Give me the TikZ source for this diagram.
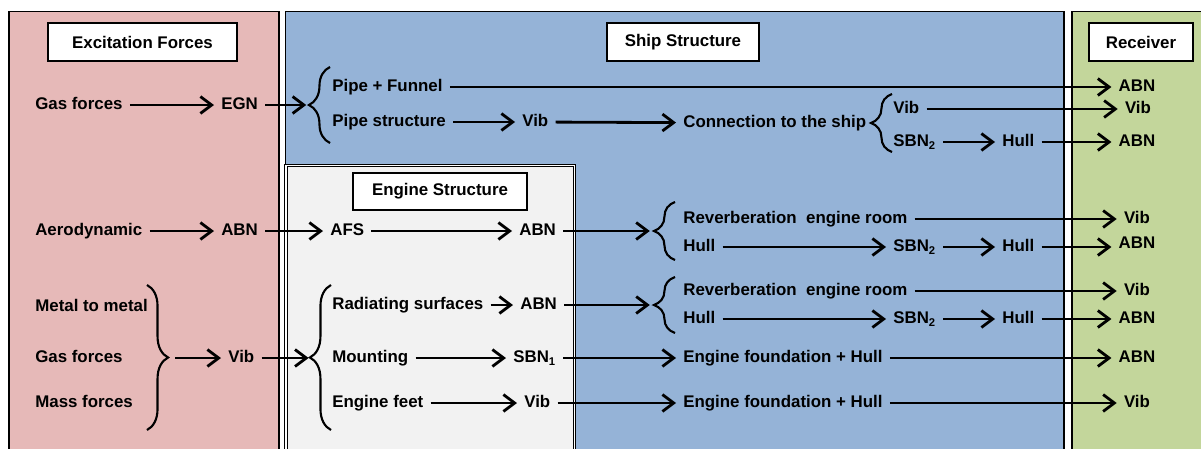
\documentclass[tikz,border=0pt]{standalone}
\usepackage{fontspec}
\setmainfont{Liberation Sans}
\usetikzlibrary{positioning,arrows.meta,decorations.pathreplacing}
\definecolor{excitecolour}{HTML}{E6B9B8}
\definecolor{shipcolour}{HTML}{95B3D7}
\definecolor{receivecolour}{HTML}{C3D69B}
\definecolor{enginecolour}{HTML}{F2F2F2}

\begin{document}
\begin{tikzpicture}[
  x=0.025cm, y=-0.025cm,
  panel/.style = {draw=black, line width=1.4pt},
  headbox/.style = {draw=black, fill=white, line width=1.6pt, minimum height=27pt, inner sep=0pt, font=\bfseries\fontsize{12}{14}\selectfont},
  lab/.style = {anchor=west, inner xsep=5pt, inner ysep=1pt, text height=1.6ex, text depth=.3ex, font=\bfseries\fontsize{12}{14}\selectfont},
  rec/.style = {lab, anchor=center},
  flow/.style = {-{Straight Barb[length=8pt,width=12pt]}, line width=2pt},
  curly/.style = {decorate, decoration={brace, amplitude=15pt}, line width=1.5pt}
  ]

  \clip (0,0) rectangle (1201,448);

  % panels
  \draw[panel, fill=excitecolour] (9,11.5) rectangle (279,470);
  \draw[panel, fill=shipcolour] (285.5,11.5) rectangle (1063.5,470);
  \draw[panel, fill=receivecolour] (1071.5,11.5) rectangle (1230,470);
  \draw[fill=enginecolour, draw=black, line width=1pt, double=white, double distance=0.8pt] (286,165.5) rectangle (574.5,470);

  \node[headbox, minimum width=134pt] (excite_head) at (142.5,42) {Excitation Forces};
  \node[headbox, minimum width=108pt] (ship_head) at (683,42) {Ship Structure};
  \node[headbox, minimum width=74pt] (receive_head) at (1141,42) {Receiver};
  \node[headbox, minimum width=124pt, minimum height=26pt] (engine_head) at (440,191.5) {Engine Structure};

  % exhaust path
  \node[lab] (gas_a) at (28,105) {Gas forces};
  \node[lab] (egn) at (214,105) {EGN};
  \coordinate (b1_top) at (330,67);
  \coordinate (b1_bot) at (330,143);
  \coordinate (b1_tip) at (309,105);
  \draw[curly] (b1_bot) -- (b1_top);
  \node[lab] (pipe_funnel) at (325,87) {Pipe + Funnel};
  \node[rec] (abn_r1) at (1137,87) {ABN};
  \node[lab] (pipe_struct) at (325,122) {Pipe structure};
  \node[lab] (vib_a) at (515,122) {Vib};
  \node[lab] (connection) at (676,123) {Connection to the ship};
  \coordinate (b2_top) at (892,94);
  \coordinate (b2_bot) at (892,152);
  \draw[curly] (b2_bot) -- (b2_top);
  \node[lab] (vib_a2) at (886,109) {Vib};
  \node[rec] (vib_r2) at (1138,109) {Vib};
  \node[lab] (sbn_a) at (886,142) {SBN\textsubscript{2}};
  \node[lab] (hull_a) at (995,142) {Hull};
  \node[rec] (abn_r3) at (1137,142) {ABN};

  \draw[flow] (gas_a) -- (egn);
  \draw[flow, shorten >=2pt] (egn) -- (b1_tip);
  \draw[flow] (pipe_funnel) -- (abn_r1);
  \draw[flow] (pipe_struct) -- (vib_a);
  \draw[flow] (vib_a) -- (connection);
  \draw[flow] (vib_a2) -- (vib_r2);
  \draw[flow] (sbn_a) -- (hull_a);
  \draw[flow] (hull_a) -- (abn_r3);

  % aerodynamic path
  \node[lab] (aero) at (28,231) {Aerodynamic};
  \node[lab] (abn_b1) at (214,231) {ABN};
  \node[lab] (afs) at (323,231) {AFS};
  \node[lab] (abn_b2) at (512,231) {ABN};
  \coordinate (b3_top) at (675,202);
  \coordinate (b3_bot) at (675,260);
  \coordinate (b3_tip) at (654,231);
  \draw[curly] (b3_bot) -- (b3_top);
  \node[lab] (reverb_b) at (676,219) {Reverberation~ engine room};
  \node[rec] (vib_r4) at (1137,219) {Vib};
  \node[lab] (hull_b1) at (676,247) {Hull};
  \node[lab] (sbn_b) at (886,247) {SBN\textsubscript{2}};
  \node[lab] (hull_b2) at (995,247) {Hull};
  \node[rec] (abn_r5) at (1137,244) {ABN};

  \draw[flow] (aero) -- (abn_b1);
  \draw[flow] (abn_b1) -- (afs);
  \draw[flow] (afs) -- (abn_b2);
  \draw[flow, shorten >=3pt] (abn_b2) -- (b3_tip);
  \draw[flow] (reverb_b) -- (vib_r4);
  \draw[flow] (hull_b1) -- (sbn_b);
  \draw[flow] (sbn_b) -- (hull_b2);
  \draw[flow] (hull_b2.east) -- (hull_b2.east -| abn_r5.west);

  % structure borne path
  \node[lab] (metal) at (28,307) {Metal to metal};
  \node[lab] (gas_c) at (28,358) {Gas forces};
  \node[lab] (mass) at (28,403) {Mass forces};
  \coordinate (b4_top) at (147,285);
  \coordinate (b4_bot) at (147,430);
  \coordinate (b4_tip) at (168,358);
  \draw[curly] (b4_top) -- (b4_bot);
  \node[lab] (vib_c1) at (221,358) {Vib};
  \coordinate (b5_top) at (331,285);
  \coordinate (b5_bot) at (331,430);
  \coordinate (b5_tip) at (310,358);
  \draw[curly] (b5_bot) -- (b5_top);

  \node[lab] (radiating) at (325,305) {Radiating surfaces};
  \node[lab] (abn_c1) at (513,305) {ABN};
  \coordinate (b6_top) at (675,277);
  \coordinate (b6_bot) at (675,333);
  \coordinate (b6_tip) at (654,305);
  \draw[curly] (b6_bot) -- (b6_top);
  \node[lab] (reverb_c) at (676,291) {Reverberation~ engine room};
  \node[rec] (vib_r6) at (1137,291) {Vib};
  \node[lab] (hull_c1) at (676,319) {Hull};
  \node[lab] (sbn_c) at (886,319) {SBN\textsubscript{2}};
  \node[lab] (hull_c2) at (995,319) {Hull};
  \node[rec] (abn_r7) at (1137,319) {ABN};

  \node[lab] (mounting) at (325,358) {Mounting};
  \node[lab] (sbn_1) at (506,358) {SBN\textsubscript{1}};
  \node[lab] (found_1) at (676,358) {Engine foundation + Hull};
  \node[rec] (abn_r8) at (1137,358) {ABN};
  \node[lab] (feet) at (325,403) {Engine feet};
  \node[lab] (vib_c2) at (517,403) {Vib};
  \node[lab] (found_2) at (676,403) {Engine foundation + Hull};
  \node[rec] (vib_r9) at (1137,403) {Vib};

  \draw[flow, shorten <=5pt] (b4_tip) -- (vib_c1);
  \draw[flow, shorten >=1pt] (vib_c1) -- (b5_tip);
  \draw[flow] (radiating) -- (abn_c1);
  \draw[flow, shorten >=3pt] (abn_c1) -- (b6_tip);
  \draw[flow] (reverb_c) -- (vib_r6);
  \draw[flow] (hull_c1) -- (sbn_c);
  \draw[flow] (sbn_c) -- (hull_c2);
  \draw[flow] (hull_c2) -- (abn_r7);
  \draw[flow] (mounting) -- (sbn_1);
  \draw[flow] (sbn_1) -- (found_1);
  \draw[flow] (found_1) -- (abn_r8);
  \draw[flow] (feet) -- (vib_c2);
  \draw[flow] (vib_c2) -- (found_2);
  \draw[flow] (found_2) -- (vib_r9);

\end{tikzpicture}
\end{document}
